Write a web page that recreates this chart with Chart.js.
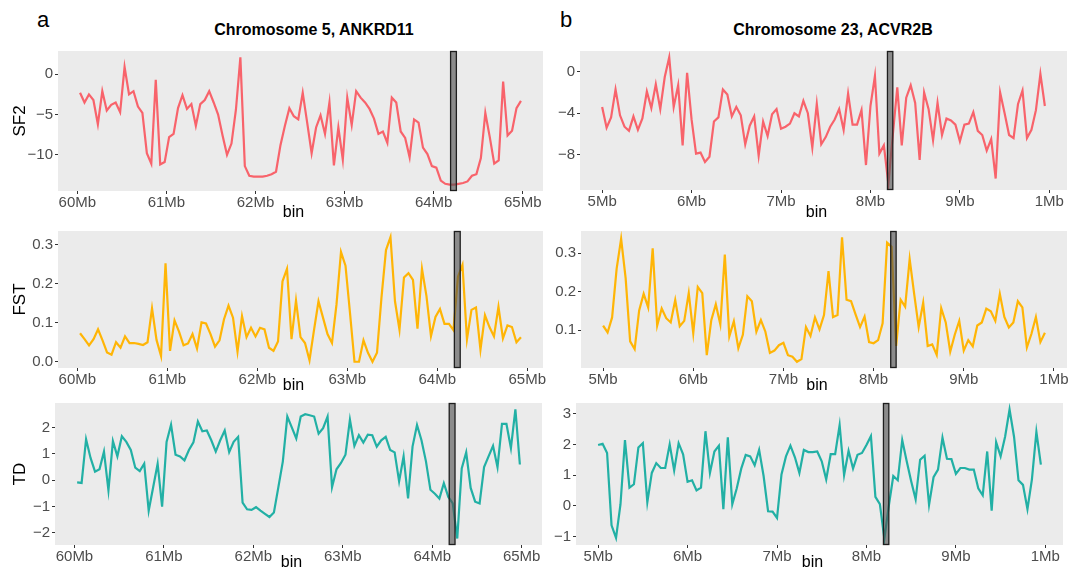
<!DOCTYPE html>
<html>
<head>
<meta charset="utf-8">
<script src="https://cdn.jsdelivr.net/npm/chart.js@4.4.1/dist/chart.umd.min.js"></script>
<style>
  body { margin: 0; background: #fff; width: 1077px; height: 575px; position: relative; overflow: hidden;
         font-family: "Liberation Sans", Arial, sans-serif; }
  canvas { position: absolute; }
  .tag { position: absolute; font-size: 22px; line-height: 22px; color: #000; }
  .title { position: absolute; font-size: 16px; font-weight: bold; line-height: 16px; color: #000;
           transform: translateX(-50%); white-space: nowrap; }
</style>
</head>
<body>
<div class="tag" style="left:37px;top:9px">a</div>
<div class="tag" style="left:560px;top:9px">b</div>
<div class="title" style="left:314px;top:22px">Chromosome 5, ANKRD11</div>
<div class="title" style="left:833px;top:22px">Chromosome 23, ACVR2B</div>
<canvas id="sf2A"></canvas>
<canvas id="fstA"></canvas>
<canvas id="tdA"></canvas>
<canvas id="sf2B"></canvas>
<canvas id="fstB"></canvas>
<canvas id="tdB"></canvas>
<script>
// 50 kb bins, chromosome 5 (left) and chromosome 23 (right), in Mb
const binsA = [60.03,60.08,60.13,60.18,60.23,60.28,60.33,60.38,60.43,60.48,
  60.53,60.58,60.63,60.68,60.73,60.78,60.83,60.88,60.93,60.98,
  61.03,61.08,61.13,61.18,61.23,61.28,61.33,61.38,61.43,61.48,
  61.53,61.58,61.63,61.68,61.73,61.78,61.83,61.88,61.93,61.98,
  62.03,62.08,62.13,62.18,62.23,62.28,62.33,62.38,62.43,62.48,
  62.53,62.58,62.63,62.68,62.73,62.78,62.83,62.88,62.93,62.98,
  63.03,63.08,63.13,63.18,63.23,63.28,63.33,63.38,63.43,63.48,
  63.53,63.58,63.63,63.68,63.73,63.78,63.83,63.88,63.93,63.98,
  64.03,64.08,64.13,64.18,64.23,64.28,64.33,64.38,64.43,64.48,
  64.53,64.58,64.63,64.68,64.73,64.78,64.83,64.88,64.93,64.98];
const binsB = [5.00,5.05,5.10,5.15,5.20,5.25,5.30,5.35,5.40,5.45,
  5.50,5.55,5.60,5.65,5.70,5.75,5.80,5.85,5.90,5.95,
  6.00,6.05,6.10,6.15,6.20,6.25,6.30,6.35,6.40,6.45,
  6.50,6.55,6.60,6.65,6.70,6.75,6.80,6.85,6.90,6.95,
  7.00,7.05,7.10,7.15,7.20,7.25,7.30,7.35,7.40,7.45,
  7.50,7.55,7.60,7.65,7.70,7.75,7.80,7.85,7.90,7.95,
  8.00,8.05,8.10,8.15,8.20,8.25,8.30,8.35,8.40,8.45,
  8.50,8.55,8.60,8.65,8.70,8.75,8.80,8.85,8.90,8.95,
  9.00,9.05,9.10,9.15,9.20,9.25,9.30,9.35,9.40,9.45,
  9.50,9.55,9.60,9.65,9.70,9.75,9.80,9.85,9.90,9.95];

const sf2A = [-2.3,-3.5,-2.5,-3.2,-6.2,-2.1,-4.5,-3.8,-3.5,-4.7,
  0.9,-2.5,-2.1,-4.0,-4.8,-9.8,-11.1,-0.7,-11.2,-10.9,
  -7.8,-7.4,-4.2,-2.6,-4.3,-3.7,-6.4,-3.7,-3.2,-2.1,
  -3.5,-5.0,-7.6,-10.0,-8.6,-4.4,2.1,-11.4,-12.6,-12.7,
  -12.7,-12.7,-12.6,-12.4,-12.1,-8.8,-6.4,-4.2,-5.2,-5.6,
  -2.3,-6.0,-9.8,-6.6,-5.1,-7.4,-3.5,-11.3,-6.6,-10.6,
  -2.9,-6.3,-2.1,-2.9,-3.5,-4.3,-5.5,-7.4,-7.1,-8.5,
  -2.9,-3.5,-7.1,-7.9,-10.3,-5.6,-6.0,-9.1,-9.9,-11.4,
  -11.6,-13.2,-13.6,-13.7,-13.7,-13.6,-13.5,-13.3,-12.6,-12.4,
  -10.4,-4.8,-7.8,-11.1,-10.7,-0.9,-7.6,-7.0,-4.2,-3.3];
const fstA = [0.073,0.058,0.042,0.058,0.083,0.055,0.024,0.018,0.050,0.036,
  0.065,0.048,0.048,0.046,0.043,0.050,0.137,0.056,0.015,0.252,
  0.028,0.106,0.077,0.042,0.047,0.071,0.034,0.101,0.098,0.071,
  0.039,0.055,0.109,0.144,0.113,0.026,0.117,0.063,0.087,0.065,
  0.087,0.083,0.036,0.028,0.052,0.206,0.238,0.058,0.157,0.063,
  0.048,0.004,0.081,0.155,0.113,0.071,0.048,0.147,0.281,0.246,
  0.125,0.000,0.000,0.055,0.023,0.000,0.023,0.165,0.286,0.319,
  0.155,0.082,0.216,0.227,0.210,0.085,0.238,0.168,0.066,0.115,
  0.135,0.097,0.097,0.081,0.218,0.248,0.058,0.133,0.139,0.031,
  0.119,0.089,0.065,0.141,0.060,0.093,0.089,0.050,0.063];
const tdA = [-0.09,-0.11,1.55,0.84,0.32,0.41,1.08,-0.39,1.48,0.90,
  1.66,1.45,1.14,0.47,0.34,0.62,-1.16,-0.27,0.62,-1.01,
  1.45,2.10,0.96,0.90,0.75,1.14,1.43,2.22,1.85,1.88,
  1.51,1.08,1.51,1.88,1.06,1.45,1.64,-0.86,-1.11,-1.13,
  -1.03,-1.16,-1.28,-1.40,-1.23,-0.27,0.71,2.41,2.00,1.58,
  2.41,2.50,2.46,2.41,1.76,1.97,2.41,-0.27,0.41,0.65,
  0.96,2.29,1.30,1.70,1.42,1.72,1.70,1.27,1.51,1.64,
  1.14,1.05,-0.05,0.90,-0.70,1.27,2.09,1.51,0.71,-0.37,
  -0.52,-0.70,-0.12,-0.64,-0.89,-2.22,0.44,1.05,-0.30,-0.82,
  -0.89,0.49,0.90,1.30,0.49,2.13,2.13,1.21,2.68,0.59];

const sf2B = [-3.4,-5.4,-4.4,-1.7,-4.2,-5.3,-5.7,-4.3,-5.6,-4.5,
  -1.9,-3.5,-1.2,-3.6,-0.5,1.4,-3.4,-1.3,-7.1,-0.1,
  -4.6,-7.9,-7.8,-8.7,-8.2,-4.8,-4.4,-1.7,-2.2,-4.3,
  -3.4,-4.2,-7.0,-5.2,-4.3,-8.1,-4.8,-6.2,-4.1,-3.6,
  -5.5,-5.3,-5.0,-4.0,-4.3,-2.8,-4.0,-7.3,-3.1,-7.0,
  -6.3,-5.3,-4.6,-3.6,-5.6,-2.1,-5.1,-5.1,-3.7,-9.0,
  -3.3,-0.4,-7.9,-7.1,-10.8,-6.1,-1.5,-7.1,-2.5,-1.3,
  -3.0,-8.5,-2.0,-3.6,-6.6,-3.0,-6.1,-4.5,-4.7,-5.1,
  -6.7,-5.1,-5.0,-3.9,-5.7,-6.1,-7.6,-6.5,-10.3,-2.0,
  -4.0,-6.1,-6.4,-3.1,-1.8,-6.4,-5.6,-3.7,-0.2,-3.3];
const fstB = [0.112,0.094,0.133,0.259,0.337,0.235,0.071,0.051,0.151,0.194,
  0.159,0.312,0.112,0.156,0.131,0.120,0.178,0.110,0.124,0.196,
  0.092,0.212,0.196,0.035,0.126,0.167,0.115,0.296,0.084,0.123,
  0.053,0.088,0.188,0.175,0.096,0.126,0.096,0.041,0.047,0.061,
  0.067,0.035,0.031,0.018,0.025,0.108,0.085,0.133,0.102,0.139,
  0.253,0.134,0.139,0.341,0.179,0.175,0.141,0.108,0.135,0.069,
  0.066,0.074,0.118,0.327,0.316,0.059,0.179,0.161,0.284,0.194,
  0.108,0.171,0.059,0.063,0.036,0.157,0.120,0.044,0.088,0.124,
  0.047,0.074,0.058,0.112,0.120,0.156,0.149,0.124,0.194,0.134,
  0.107,0.120,0.175,0.159,0.055,0.090,0.134,0.069,0.093];
const tdB = [1.98,2.02,1.72,-0.64,-1.05,0.05,2.14,0.59,0.70,1.90,
  2.04,0.11,1.07,1.39,1.23,1.23,2.00,1.15,2.04,1.68,
  0.78,0.83,0.50,0.59,2.43,1.07,1.77,1.96,-0.11,2.23,
  0.05,0.57,1.21,1.66,1.61,1.32,1.82,0.97,-0.18,-0.19,
  -0.40,1.02,1.61,1.96,1.58,1.07,1.82,1.75,1.75,1.77,
  1.45,0.86,1.68,1.68,2.63,1.00,1.79,1.21,1.66,1.72,
  1.98,2.27,0.29,0.05,-1.07,0.00,0.97,0.83,2.14,1.45,
  0.80,0.21,1.50,1.63,0.03,0.93,1.18,2.22,1.53,1.52,
  1.04,1.23,1.23,1.18,1.18,0.57,0.34,1.77,-0.16,2.07,
  1.61,2.25,3.14,2.25,0.83,0.68,-0.11,0.86,2.41,1.34];

// tick positions and labels
const xTicksA = [60, 61, 62, 63, 64, 65];
const xLabelsA = ["60Mb", "61Mb", "62Mb", "63Mb", "64Mb", "65Mb"];
const xTicksB = [5, 6, 7, 8, 9, 10];
const xLabelsB = ["5Mb", "6Mb", "7Mb", "8Mb", "9Mb", "1Mb"];
const sf2TicksA = [-10, -5, 0];
const sf2TicksB = [-8, -4, 0];
const fstTicksA = [0, 0.1, 0.2, 0.3];
const fstTicksB = [0.1, 0.2, 0.3];
const tdTicksA = [-2, -1, 0, 1, 2];
const tdTicksB = [-1, 0, 1, 2, 3];

// gene positions (Mb)
const geneA = [64.19, 64.255];
const geneB = [8.19, 8.25];

const FONT = '"Liberation Sans", Arial, sans-serif';
const RED = "#f8636b", GOLD = "#ffb506", TEAL = "#22b0a5";

function fmt(v, d) {
	const s = Math.abs(v).toFixed(d);
	return (v < 0 ? "\u2212" : "") + s;
}

function deco(o) {
	return {
		id: "deco",
		beforeDraw(chart) {
			const a = chart.chartArea, ctx = chart.ctx;
			ctx.save();
			ctx.fillStyle = "#EBEBEB";
			ctx.fillRect(a.left, a.top, a.right - a.left, a.bottom - a.top);
			ctx.restore();
		},
		afterDatasetsDraw(chart) {
			const a = chart.chartArea, ctx = chart.ctx, xs = chart.scales.x;
			const x1 = xs.getPixelForValue(o.gene[0]), x2 = xs.getPixelForValue(o.gene[1]);
			ctx.save();
			ctx.fillStyle = "rgba(80,80,80,0.62)";
			ctx.fillRect(x1, a.top, x2 - x1, a.bottom - a.top);
			ctx.strokeStyle = "#1e1e1e";
			ctx.lineWidth = 1.3;
			ctx.strokeRect(x1, a.top + 0.5, x2 - x1, a.bottom - a.top - 1);
			ctx.restore();
		},
		afterDraw(chart) {
			const a = chart.chartArea, ctx = chart.ctx;
			ctx.save();
			ctx.fillStyle = "#000";
			ctx.font = "16px " + FONT;
			ctx.textAlign = "center";
			ctx.textBaseline = "middle";
			ctx.fillText("bin", (a.left + a.right) / 2 - 7, a.bottom + o.binDy);
			if (o.yTitle) {
				ctx.font = "17px " + FONT;
				ctx.translate(20 - o.x0, (a.top + a.bottom) / 2);
				ctx.rotate(-Math.PI / 2);
				ctx.fillText(o.yTitle, 0, 0);
			}
			ctx.restore();
		}
	};
}

function panel(o) {
	const cv = document.getElementById(o.id);
	cv.width = o.w;
	cv.height = o.h;
	cv.style.left = o.x0 + "px";
	cv.style.top = o.y0 + "px";
	const n = o.values.length;
	const pts = o.values.map((v, i) => ({ x: o.bins[i], y: v }));
	const xlo = o.bins[0], xhi = o.bins[n - 1], xp = (xhi - xlo) * 0.05;
	const ylo = Math.min(...o.values), yhi = Math.max(...o.values), yp = (yhi - ylo) * 0.05;
	const box = o.area;
	new Chart(cv, {
		type: "line",
		data: {
			datasets: [{
				data: pts,
				borderColor: o.color,
				borderWidth: 2.2,
				pointRadius: 0,
				tension: 0,
				fill: false,
			}],
		},
		options: {
			responsive: false,
			animation: false,
			devicePixelRatio: 1,
			layout: { padding: { top: box.top - o.y0, right: o.x0 + o.w - box.right, left: 0, bottom: 0 } },
			plugins: { legend: { display: false }, tooltip: { enabled: false } },
			scales: {
				x: {
					type: "linear",
					min: xlo - xp,
					max: xhi + xp,
					afterBuildTicks: (s) => { s.ticks = o.xTicks.map((v) => ({ value: v })); },
					afterFit: (s) => { s.height = o.y0 + o.h - box.bottom; },
					ticks: {
						callback: (v, i) => o.xLabels[i],
						color: "#4D4D4D",
						font: { size: 15, family: FONT },
						padding: 0,
						maxRotation: 0,
						autoSkip: false,
					},
					grid: { drawOnChartArea: false, drawTicks: true, tickLength: 3, tickColor: "#333333" },
					border: { display: false },
				},
				y: {
					min: ylo - yp,
					max: yhi + yp,
					afterBuildTicks: (s) => { s.ticks = o.yTicks.map((v) => ({ value: v })); },
					afterFit: (s) => { s.width = box.left - o.x0; },
					ticks: {
						callback: (v) => fmt(v, o.dec),
						color: "#4D4D4D",
						font: { size: 15, family: FONT },
						padding: 2,
					},
					grid: { drawOnChartArea: false, drawTicks: true, tickLength: 3, tickColor: "#333333" },
					border: { display: false },
				},
			},
		},
		plugins: [deco(o)],
	});
}

const colA = { x0: 0, w: 550, bins: binsA, xTicks: xTicksA, xLabels: xLabelsA, gene: geneA };
const colB = { x0: 550, w: 527, bins: binsB, xTicks: xTicksB, xLabels: xLabelsB, gene: geneB };

panel({ ...colA, id: "sf2A", y0: 40, h: 180, values: sf2A, color: RED, yTicks: sf2TicksA, dec: 0,
	area: { left: 58, right: 543, top: 46, bottom: 191 }, yTitle: "SF2", binDy: 22 });
panel({ ...colA, id: "fstA", y0: 220, h: 172, values: fstA, color: GOLD, yTicks: fstTicksA, dec: 1,
	area: { left: 58, right: 543, top: 223, bottom: 368 }, yTitle: "FST", binDy: 18 });
panel({ ...colA, id: "tdA", y0: 392, h: 183, values: tdA, color: TEAL, yTicks: tdTicksA, dec: 0,
	area: { left: 55, right: 542, top: 401, bottom: 545 }, yTitle: "TD", binDy: 18 });

panel({ ...colB, id: "sf2B", y0: 40, h: 180, values: sf2B, color: RED, yTicks: sf2TicksB, dec: 0,
	area: { left: 580, right: 1067, top: 46, bottom: 190 }, binDy: 23 });
panel({ ...colB, id: "fstB", y0: 220, h: 172, values: fstB, color: GOLD, yTicks: fstTicksB, dec: 1,
	area: { left: 581, right: 1067, top: 223, bottom: 368 }, binDy: 18 });
panel({ ...colB, id: "tdB", y0: 392, h: 183, values: tdB, color: TEAL, yTicks: tdTicksB, dec: 0,
	area: { left: 576, right: 1063, top: 401, bottom: 545 }, binDy: 18 });
</script>
</body>
</html>
